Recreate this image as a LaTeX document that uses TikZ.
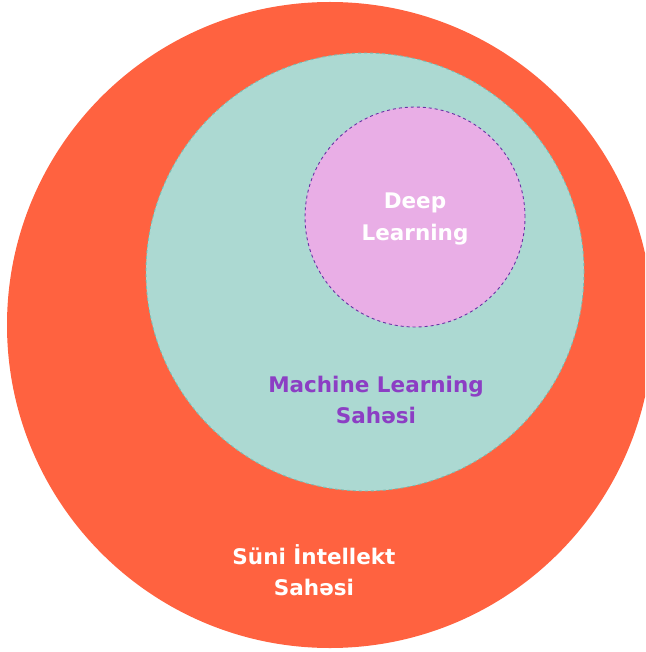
\documentclass[tikz,border=0pt]{standalone}
\usepackage{fontspec}
\setmainfont{DejaVu Sans}
\usepackage{xcolor}
\usepackage{tikz}
\usetikzlibrary{positioning}
\definecolor{aiorange}{RGB}{255,98,64}
\definecolor{mlteal}{RGB}{172,217,210}
\definecolor{mledge}{RGB}{120,190,180}
\definecolor{dlpink}{RGB}{233,174,230}
\definecolor{dledge}{RGB}{105,50,165}
\definecolor{mlpurple}{RGB}{140,62,196}

\begin{document}
\begin{tikzpicture}[x=1pt,y=-1pt,
    zone/.style={circle,inner sep=0pt,line width=0.9pt,dash pattern=on 3pt off 3pt},
    zonetext/.style={align=center,font=\bfseries\fontsize{21.5}{31.5}\selectfont}]
    \useasboundingbox (0,0) rectangle (645,652);
    \clip (0,0) rectangle (645,652);
    % nested fields
    \node[zone,fill=aiorange,minimum size=646pt] (ai) at (330,325) {};
    \node[zone,fill=mlteal,draw=mledge,minimum size=438pt] (ml) at (365,272) {};
    \node[zone,fill=dlpink,draw=dledge,minimum size=220pt] (dl) at (415,217) {};
    % labels
    \node[zonetext,text=white] (dltext) at (415,219) {Deep\\Learning};
    \node[zonetext,text=mlpurple] (mltext) at (376,400) {Machine Learning\\Sahəsi};
    \node[zonetext,text=white] (aitext) at (314,570) {Süni İntellekt\\Sahəsi};
\end{tikzpicture}
\end{document}
